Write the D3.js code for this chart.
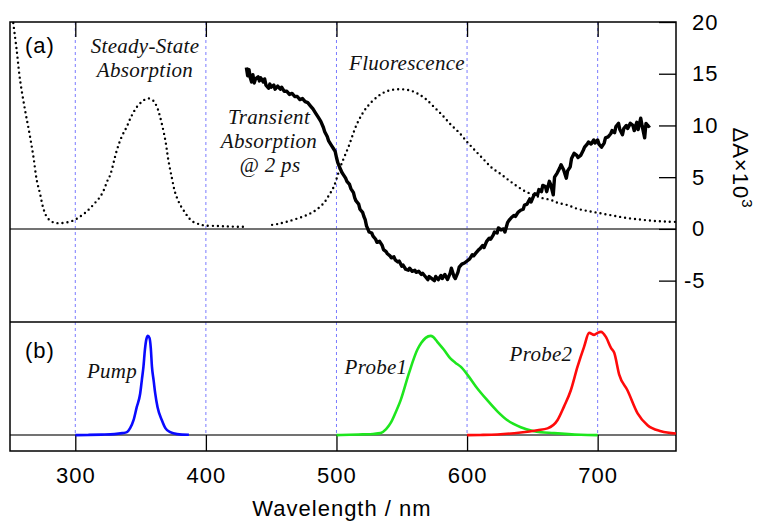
<!DOCTYPE html>
<html>
<head>
<meta charset="utf-8">
<script src="https://cdn.jsdelivr.net/npm/d3@7"></script>
<style>
  body { margin: 0; background: #fff; }
  svg { display: block; }
  .sans { font-family: "Liberation Sans", Arial, sans-serif; letter-spacing: 1px; }
  .lab { font-family: "Liberation Serif", "Times New Roman", serif; font-style: italic; font-size: 21px; fill: #111; letter-spacing: 0.3px; }
</style>
</head>
<body>
<div id="chart"></div>
<script>
// panel (a): steady-state absorption, fluorescence, transient absorption (dA x 10^3)
const steadyAbs = [[252.5,19.9],[255.1,17.3],[257.7,14.4],[261.5,11.5],[264.8,9.3],[267.9,7.0],[270.5,4.7],[273,3.4],
  [275.5,2.0],[278,1.2],[281,0.77],[284,0.6],[287,0.55],[291,0.58],[296,0.7],[300,0.9],[303.7,1.2],[307.5,1.55],
  [311.3,2.0],[315,2.5],[319,3.1],[322,3.8],[324.4,4.6],[326.7,5.2],[331.8,7.6],[335.5,8.9],[339.5,9.9],[343,10.9],
  [347.2,11.8],[351,12.3],[354.8,12.6],[357,12.6],[359.7,12.4],[362.5,11.8],[365,10.8],[368.9,8.6],[371.2,6.7],
  [374,4.9],[376.5,3.5],[380.4,2.3],[384.2,1.55],[387,1.05],[390.3,0.68],[395,0.45],[399.5,0.32],[408.5,0.29],
  [415,0.25],[421,0.22],[429.4,0.2]];

const fluorescence = [[450.7,0.39],[456,0.5],[462.2,0.7],[470,1.0],[477.5,1.35],[484,1.8],[490.3,2.5],[494,3.2],
  [498,4.1],[503,6.0],[509.4,8.0],[515.9,10.2],[523.5,11.8],[533.7,13.0],[541,13.4],[549,13.5],[556,13.4],
  [561.9,13.1],[568,12.6],[574.6,11.8],[581,11.0],[587.4,10.1],[594,9.3],[600.1,8.4],[606,7.6],[612.8,6.7],
  [619,5.9],[625.8,5.3],[632,4.7],[638.6,4.1],[645,3.6],[651,3.3],[657,3.0],[664,2.8],[670,2.5],[677,2.3],
  [683,2.0],[689.6,1.8],[696,1.65],[702.5,1.5],[709,1.35],[715.3,1.2],[721,1.08],[727.8,0.97],[734,0.88],
  [740.8,0.8],[747,0.74],[753.6,0.7],[760,0.68]];

const transient = [[431,15.6],[432,14.8],[433,15.4],[434,14.6],[435,14.2],[436,14.9],[437,14.1],[438,14.5],[440,14.7],
  [441,14.3],[442,14.6],[444,14.2],[445,14.5],[446,13.9],[448,13.6],[449,14.0],[450,13.7],[452,13.9],[453,13.5],
  [455,13.8],[457,13.5],[458,13.7],[460,13.3],[462,13.3],[464,13.0],[466,13.1],[468,12.8],[470,12.8],[472,12.5],
  [474,12.6],[476,12.3],[478,12.2],[480,11.9],[482,11.6],[484,11.2],[486,10.8],[488,10.4],[490,9.8],[491,9.4],
  [493,8.9],[494,8.5],[496,8.1],[498,7.7],[499,7.5],[500,6.9],[501,6.4],[502,6.1],[504,5.5],[505,5.3],[507,4.9],
  [508,4.6],[510,4.3],[511,3.9],[513,3.5],[514,3.0],[515,2.7],[517,2.4],[518,1.9],[520,1.6],[521,1.2],[522,0.9],
  [523,0.3],[524,0.0],[525,-0.3],[527,-0.4],[528,-0.7],[530,-1.0],[531,-1.3],[533,-1.2],[535,-1.6],[536,-2.0],
  [538,-2.2],[539,-2.4],[541,-2.6],[542,-2.8],[544,-2.7],[545,-3.0],[547,-3.2],[548,-3.1],[550,-3.6],[551,-3.5],
  [553,-3.9],[555,-4.0],[556,-3.8],[558,-4.1],[560,-4.0],[561,-4.2],[563,-4.1],[565,-4.4],[566,-4.3],[568,-4.6],
  [570,-4.9],[571,-4.6],[573,-4.8],[575,-5.0],[576,-4.6],[578,-4.9],[580,-4.5],[581,-4.8],[583,-4.4],[585,-4.9],
  [587,-4.3],[588,-3.8],[590,-4.6],[591,-4.8],[593,-4.2],[594,-3.7],[596,-3.4],[598,-3.3],[600,-3.1],[602,-2.9],
  [604,-2.5],[605,-2.6],[607,-2.3],[609,-2.0],[610,-1.9],[612,-1.6],[613,-1.8],[615,-1.2],[617,-0.9],[618,-1.0],
  [620,-0.6],[621,-0.3],[623,-0.4],[624,0.1],[626,-0.1],[628,0.0],[629,-0.3],[631,0.6],[632,0.8],[634,1.1],
  [636,1.3],[637,1.2],[639,1.6],[641,1.8],[643,1.9],[644,2.3],[646,2.4],[648,2.9],[649,2.6],[651,3.2],[652,3.4],
  [654,3.3],[655,3.8],[657,3.6],[658,4.2],[660,4.1],[661,3.6],[663,4.6],[664,4.3],[666,3.3],[667,5.0],[669,5.4],
  [671,5.9],[672,6.2],[674,5.7],[676,4.9],[677,5.6],[679,6.0],[680,6.8],[682,7.3],[684,7.1],[685,6.9],[687,7.1],
  [689,7.6],[690,7.9],[692,8.2],[693,8.4],[695,8.2],[697,8.6],[698,8.3],[700,8.6],[701,8.2],[703,7.9],[705,8.3],
  [706,8.8],[708,8.9],[710,9.2],[711,9.5],[713,9.3],[714,9.9],[716,10.2],[717,9.6],[719,9.1],[720,9.7],[722,10.0],
  [723,9.7],[725,10.2],[727,10.0],[728,9.5],[730,10.3],[731,9.6],[733,10.7],[734,10.0],[736,8.8],[737,10.2],
  [739,9.9],[740,10.0]];

// panel (b): normalised pulse spectra
const pump = [[300,0],[310,0.002],[320,0.005],[330,0.01],[336,0.02],[339.5,0.03],[342,0.07],[344.6,0.15],[347,0.28],
  [349.7,0.42],[351,0.56],[352.2,0.69],[353.3,0.86],[354.5,0.97],[355.6,1.0],[356.8,0.98],[357.8,0.88],[358.7,0.69],
  [360,0.55],[361.2,0.42],[363,0.28],[366.3,0.15],[369,0.07],[372.7,0.03],[378,0.01],[387,0.003]];

const probe1 = [[500,0],[510,0.003],[520,0.008],[528,0.012],[533.7,0.02],[538,0.06],[541.4,0.12],[545,0.22],
  [549.1,0.35],[555.4,0.62],[561.9,0.86],[565,0.93],[568.3,0.98],[572.1,1.0],[574,0.99],[577.2,0.94],[582.3,0.86],
  [587.4,0.77],[591,0.73],[595.1,0.69],[600.2,0.61],[607.9,0.47],[615.6,0.35],[623.2,0.24],[630.9,0.15],
  [641.1,0.08],[651.3,0.04],[666.6,0.02],[687.1,0.003],[700,0]];

const probe2 = [[600,0],[610,0.002],[623.2,0.007],[641.1,0.027],[653.9,0.05],[661.6,0.068],[669.2,0.15],[674.3,0.29],
  [679.4,0.45],[684.6,0.69],[689.6,0.89],[693.5,1.03],[697.3,1.01],[699.9,1.03],[702.5,1.04],[706.3,0.99],
  [710.2,0.88],[712.7,0.83],[716.5,0.61],[722.9,0.45],[730.6,0.22],[738.2,0.1],[748.5,0.04],[760,0.017]];

const xTicks = [300, 400, 500, 600, 700];
const yTicks = [-5, 0, 5, 10, 15, 20];

const width = 764, height = 521;
const mLeft = 10, mRight = 676, mTop = 22, mMid = 322, mBottom = 451;

const svg = d3.select("#chart").append("svg")
  .attr("width", width)
  .attr("height", height)
  .style("background", "#fff");

const x = d3.scaleLinear().domain([250, 760]).range([mLeft, mRight]);
const yA = d3.scaleLinear().domain([-9, 20]).range([mMid, mTop]);
const yB = d3.scaleLinear().domain([-0.16, 1.14]).range([mBottom, mMid]);

// blue dashed grid lines
svg.append("g")
  .selectAll("line")
  .data(xTicks)
  .join("line")
  .attr("x1", d => x(d)).attr("x2", d => x(d))
  .attr("y1", mTop).attr("y2", yB(0))
  .attr("stroke", "#7b7bff")
  .attr("stroke-width", 1)
  .attr("stroke-dasharray", "3,3");

// zero lines
svg.append("line")
  .attr("x1", mLeft).attr("x2", mRight)
  .attr("y1", yA(0)).attr("y2", yA(0))
  .attr("stroke", "#444").attr("stroke-width", 1.5);
svg.append("line")
  .attr("x1", mLeft).attr("x2", mRight)
  .attr("y1", yB(0)).attr("y2", yB(0))
  .attr("stroke", "#444").attr("stroke-width", 1.5);

// axes
svg.append("g")
  .attr("transform", `translate(0,${mBottom})`)
  .call(d3.axisBottom(x).tickValues(xTicks).tickSize(-16).tickPadding(16).tickFormat(d3.format("d")))
  .call(g => g.select(".domain").remove())
  .call(g => g.selectAll("line").attr("stroke", "#000").attr("stroke-width", 1.3))
  .call(g => g.selectAll("text").attr("class", "sans").attr("font-size", 22).attr("fill", "#000"));

svg.append("g")
  .attr("transform", `translate(0,${mTop})`)
  .call(d3.axisTop(x).tickValues(xTicks).tickSize(-15).tickFormat(""))
  .call(g => g.select(".domain").remove())
  .call(g => g.selectAll("line").attr("stroke", "#000").attr("stroke-width", 1.3));

svg.append("g")
  .attr("transform", `translate(${mRight},0)`)
  .call(d3.axisRight(yA).tickValues(yTicks).tickSize(-17).tickPadding(16).tickFormat(d => d < 0 ? "-" + Math.abs(d) : String(d)))
  .call(g => g.select(".domain").remove())
  .call(g => g.selectAll("line").attr("stroke", "#000").attr("stroke-width", 1.3))
  .call(g => g.selectAll("text")
    .attr("class", "sans")
    .attr("font-size", 22).attr("fill", "#000")
    .attr("x", d => d < 0 ? 8 : 16));

// frame
svg.append("rect")
  .attr("x", mLeft).attr("y", mTop)
  .attr("width", mRight - mLeft).attr("height", mBottom - mTop)
  .attr("fill", "none").attr("stroke", "#000").attr("stroke-width", 1.5);
svg.append("line")
  .attr("x1", mLeft).attr("x2", mRight)
  .attr("y1", mMid).attr("y2", mMid)
  .attr("stroke", "#000").attr("stroke-width", 1.5);

// curves
const lineA = d3.line().x(d => x(d[0])).y(d => yA(d[1]));
const lineB = d3.line().x(d => x(d[0])).y(d => yB(d[1])).curve(d3.curveMonotoneX);
const dotted = d3.line().x(d => x(d[0])).y(d => yA(d[1])).curve(d3.curveCatmullRom);

[steadyAbs, fluorescence].forEach(s => {
  svg.append("path")
    .attr("d", dotted(s))
    .attr("fill", "none")
    .attr("stroke", "#000")
    .attr("stroke-width", 2.4)
    .attr("stroke-linecap", "round")
    .attr("stroke-dasharray", "0,5");
});

svg.append("path")
  .attr("d", lineA(transient))
  .attr("fill", "none")
  .attr("stroke", "#000")
  .attr("stroke-width", 3.4)
  .attr("stroke-linejoin", "round");

const pulses = [
  { data: pump, color: "#0a0aff" },
  { data: probe1, color: "#1ee61e" },
  { data: probe2, color: "#ff0a0a" }
];
pulses.forEach(p => {
  svg.append("path")
    .attr("d", lineB(p.data))
    .attr("fill", "none")
    .attr("stroke", p.color)
    .attr("stroke-width", 2.6)
    .attr("stroke-linejoin", "round");
});

// panel letters
svg.append("text").attr("class", "sans").attr("x", 25).attr("y", 53)
  .attr("font-size", 22).text("(a)");
svg.append("text").attr("class", "sans").attr("x", 25).attr("y", 358)
  .attr("font-size", 22).text("(b)");

// italic labels
const labels = [
  { t: "Steady-State", x: 145, y: 53 },
  { t: "Absorption", x: 145, y: 77 },
  { t: "Transient", x: 269, y: 124 },
  { t: "Absorption", x: 269, y: 148 },
  { t: "@ 2 ps", x: 270, y: 172 },
  { t: "Fluorescence", x: 407, y: 70 },
  { t: "Pump", x: 112, y: 378 },
  { t: "Probe1", x: 376, y: 374 },
  { t: "Probe2", x: 541, y: 361 }
];
svg.append("g")
  .selectAll("text")
  .data(labels)
  .join("text")
  .attr("class", "lab")
  .attr("x", d => d.x).attr("y", d => d.y)
  .attr("text-anchor", "middle")
  .text(d => d.t);

// axis titles
svg.append("text").attr("class", "sans")
  .attr("x", 342).attr("y", 516)
  .attr("text-anchor", "middle").attr("font-size", 22)
  .text("Wavelength / nm");

const yt = svg.append("text").attr("class", "sans")
  .attr("transform", "translate(733,168) rotate(90)")
  .attr("text-anchor", "middle").attr("font-size", 22);
yt.append("tspan").text("\u0394A\u00d710");
yt.append("tspan").attr("dy", -9).attr("font-size", 15).text("3");
</script>
</body>
</html>
